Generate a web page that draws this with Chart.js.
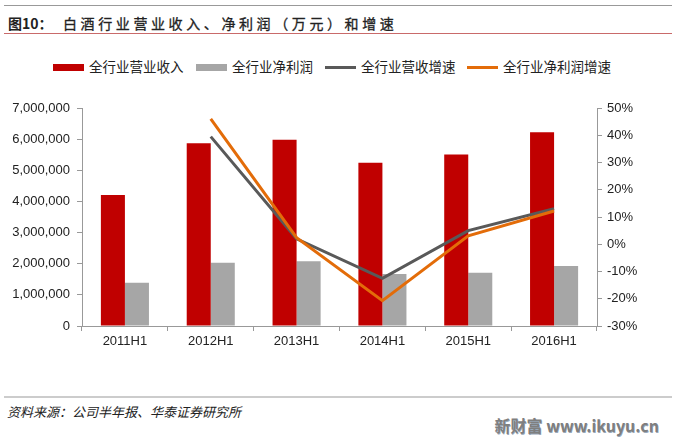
<!DOCTYPE html>
<html>
<head>
<meta charset="utf-8">
<script src="https://cdn.jsdelivr.net/npm/chart.js@4/dist/chart.umd.min.js"></script>
<style>
  body { margin: 0; width: 676px; height: 442px; background: #fff; position: relative; overflow: hidden;
         font-family: "Liberation Sans", Arial, "Noto Sans CJK SC", sans-serif; }
  .hr { position: absolute; left: 4px; width: 668px; }
  #title { position: absolute; left: 8px; top: 13px; font-size: 14px; line-height: 20px; font-weight: bold; color: #222;
           font-family: "Noto Sans CJK SC", sans-serif; white-space: nowrap; }
  #title .num { display: inline-block; width: 55px; letter-spacing: 0; }
  #title .txt { letter-spacing: 3.6px; font-weight: normal; -webkit-text-stroke: 0.3px #222; }
  #legend { position: absolute; top: 56px; left: 53px; font-size: 13.5px; line-height: 20px; color: #222;
            font-family: "Noto Sans CJK SC", sans-serif; white-space: nowrap; }
  #legend span.item { position: absolute; top: 0; }
  #legend i { display: inline-block; width: 31px; vertical-align: middle; margin-right: 5px; position: relative; top: -1px; }
  #wrap { position: absolute; left: 0; top: 90px; width: 676px; height: 270px; }
  #src { position: absolute; left: 7px; top: 403px; font-size: 13px; line-height: 18px; font-style: italic; color: #222;
         font-family: "Noto Sans CJK SC", sans-serif; white-space: nowrap; }
  #mark { position: absolute; right: 17px; top: 414px; font-size: 16px; line-height: 22px; font-weight: bold; color: #7f7f7f;
          font-family: "Noto Sans CJK SC", sans-serif; text-shadow: 0.5px 0.5px 0 #9ab; }
</style>
</head>
<body>
<div class="hr" style="top:5px;border-top:1px solid #999"></div>
<div id="title"><span class="num">图10：</span><span class="txt">白酒行业营业收入、净利润（万元）和增速</span></div>
<div class="hr" style="top:33px;border-top:1px solid #c96a6a"></div>
<div id="legend">
  <span class="item" style="left:0"><i style="height:7px;background:#C00000"></i>全行业营业收入</span>
  <span class="item" style="left:143px"><i style="height:7px;background:#A6A6A6"></i>全行业净利润</span>
  <span class="item" style="left:272px"><i style="height:3px;background:#595959"></i>全行业营收增速</span>
  <span class="item" style="left:414px"><i style="height:3px;background:#E36C09"></i>全行业净利润增速</span>
</div>
<div id="wrap"><canvas id="c"></canvas></div>
<div class="hr" style="top:396px;border-top:2px solid #ccc"></div>
<div id="src">资料来源：公司半年报、华泰证券研究所</div>
<div id="mark">新财富 www.ikuyu.cn</div>
<script>
// 数据
const periods = ['2011H1', '2012H1', '2013H1', '2014H1', '2015H1', '2016H1'];
const revenue = [4210000, 5870000, 5980000, 5240000, 5510000, 6220000];
const profit = [1390000, 2030000, 2080000, 1670000, 1710000, 1930000];
const revenueGrowth = [null, 39.5, 2.0, -12.5, 5.0, 13.0];
const profitGrowth = [null, 46.0, 2.4, -20.7, 3.1, 12.2];
const leftTicks = [0, 1000000, 2000000, 3000000, 4000000, 5000000, 6000000, 7000000];
const rightTicks = [-30, -20, -10, 0, 10, 20, 30, 40, 50];

const tickFont = { family: '"Liberation Sans", Arial, sans-serif', size: 13 };
const axisColor = '#999';

new Chart(document.getElementById('c'), {
  type: 'bar',
  data: {
    labels: periods,
    datasets: [
      { type: 'line', label: '全行业营收增速', data: revenueGrowth, yAxisID: 'y1',
        borderColor: '#595959', borderWidth: 3, pointRadius: 0, tension: 0, order: 1 },
      { type: 'line', label: '全行业净利润增速', data: profitGrowth, yAxisID: 'y1',
        borderColor: '#E36C09', borderWidth: 3, pointRadius: 0, tension: 0, order: 0 },
      { label: '全行业营业收入', data: revenue, backgroundColor: '#C00000', yAxisID: 'y',
        categoryPercentage: 0.56, barPercentage: 1, order: 3 },
      { label: '全行业净利润', data: profit, backgroundColor: '#A6A6A6', yAxisID: 'y',
        categoryPercentage: 0.56, barPercentage: 1, order: 3 }
    ]
  },
  options: {
    responsive: true,
    maintainAspectRatio: false,
    animation: false,
    layout: { padding: { top: 18, left: 0, right: 0, bottom: 0 } },
    plugins: { legend: { display: false }, tooltip: { enabled: false } },
    scales: {
      x: {
        grid: { drawOnChartArea: false, tickLength: 5, color: axisColor },
        border: { color: axisColor },
        ticks: { font: tickFont, color: '#222', padding: 3 },
        afterFit: s => { s.height = 34; }
      },
      y: {
        position: 'left',
        min: 0, max: 7000000,
        afterBuildTicks: s => { s.ticks = leftTicks.map(v => ({ value: v })); },
        grid: { drawOnChartArea: false, tickLength: 5, color: axisColor },
        border: { color: axisColor },
        ticks: { font: tickFont, color: '#222', padding: 7,
          callback: v => v.toLocaleString('en-US') },
        afterFit: s => { s.width = 82; }
      },
      y1: {
        position: 'right',
        min: -30, max: 50,
        afterBuildTicks: s => { s.ticks = rightTicks.map(v => ({ value: v })); },
        grid: { drawOnChartArea: false, tickLength: 5, color: axisColor },
        border: { color: axisColor },
        ticks: { font: tickFont, color: '#222', padding: 5, callback: v => v + '%' },
        afterFit: s => { s.width = 79; }
      }
    }
  }
});
</script>
</body>
</html>
